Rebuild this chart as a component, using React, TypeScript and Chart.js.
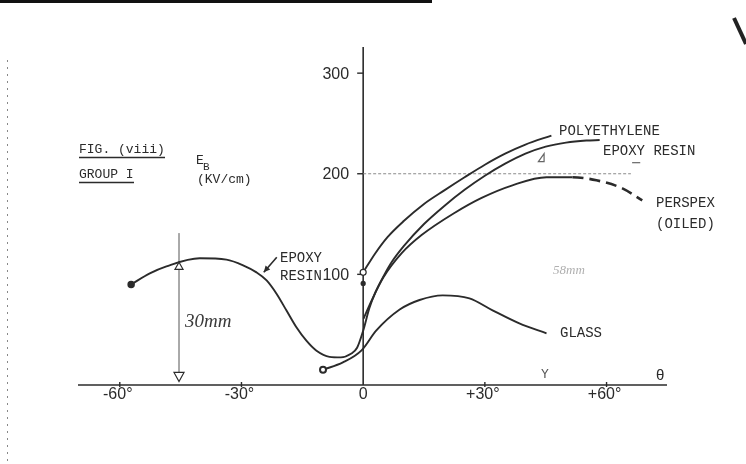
import React, { useEffect, useRef } from "react";
import { Chart, registerables } from "chart.js";

Chart.register(...registerables);

// ---- data (θ in degrees, E_B in kV/cm) ----
const epoxyDeg = [-57.2, -52.6, -48.5, -40.3, -33.7, -29.6, -26.3, -23.8, -21.4, -18.9, -16.5, -14.0, -11.5, -8.3, -5.5, -3.0, -1.5, 0, 1.5, 3, 5, 7, 10, 15, 20, 25, 30, 35, 40, 45, 50, 55, 58.3];
const epoxyKv = [90, 101, 108, 116, 114.6, 109, 102, 94, 81, 64, 47.6, 34, 24, 18, 17.5, 21, 27, 44, 66, 82, 98, 112, 128, 150, 168, 184, 198, 210, 220, 227, 231, 233, 233.5];

const polyDeg = [0, 3, 6, 10, 15, 20, 25, 30, 35, 40, 46.4];
const polyKv = [102, 121, 137, 153, 170, 183.5, 196.5, 209, 220, 229, 238];

const perspexDeg = [0.1, 2.1, 5.0, 9.5, 14.4, 22.5, 29.2, 36.8, 45.2, 51.6, 57.5, 63.9, 68.8];
const perspexKv = [56, 74, 97, 121, 139, 161, 176, 188.5, 196.5, 196.5, 193.5, 185.5, 173.5];

const glassDeg = [-9.9, -5.0, -0.4, 3.2, 9.0, 13.9, 19.6, 26.2, 31.9, 38.5, 45.2];
const glassKv = [5.2, 12.4, 24.4, 44, 65, 74.5, 79.1, 76.1, 64.2, 51.2, 41.3];

const xTickValues = [-60, -30, 0, 30, 60];
const xTickLabels = ["-60°", "-30°", "0", "+30°", "+60°"];
const yTickValues = [100, 200, 300];
const yTickLabels = ["100", "200", "300"];

const X_MIN = -70.3;
const X_MAX = 74.9;
const Y_MIN = -10;
const Y_MAX = 326;

const INK = "#2b2b2b";
const MONO = "'Liberation Mono', 'DejaVu Sans Mono', monospace";
const HAND = "'Liberation Sans', 'DejaVu Sans', sans-serif";

const toPts = (xs: number[], ys: number[]) => xs.map((x, i) => ({ x, y: ys[i] }));

const decor = {
  id: "decor",
  beforeDraw(chart: any) {
    const c = chart.ctx;
    c.save();
    c.fillStyle = "#ffffff";
    c.fillRect(0, 0, chart.width, chart.height);
    // scan artefacts
    c.fillStyle = "#111";
    c.fillRect(0, 0, 432, 3);
    c.strokeStyle = "#222";
    c.lineWidth = 4;
    c.beginPath();
    c.moveTo(734, 18);
    c.lineTo(746, 44);
    c.stroke();
    c.strokeStyle = "#888";
    c.lineWidth = 1;
    c.setLineDash([2, 5]);
    c.beginPath();
    c.moveTo(7.5, 60);
    c.lineTo(7.5, 464);
    c.stroke();
    c.restore();
  },
  beforeDatasetsDraw(chart: any) {
    const { ctx } = chart;
    const xs = chart.scales.x;
    const ys = chart.scales.y;
    const px = (v: number) => xs.getPixelForValue(v);
    const py = (v: number) => ys.getPixelForValue(v);
    ctx.save();
    ctx.strokeStyle = INK;
    ctx.lineWidth = 1.6;
    // x axis
    ctx.beginPath();
    ctx.moveTo(px(X_MIN), py(Y_MIN));
    ctx.lineTo(px(X_MAX), py(Y_MIN));
    ctx.stroke();
    // y axis
    ctx.beginPath();
    ctx.moveTo(px(0), py(Y_MAX));
    ctx.lineTo(px(0), py(Y_MIN));
    ctx.stroke();
    // y ticks
    ctx.lineWidth = 1.4;
    yTickValues.forEach((v) => {
      ctx.beginPath();
      ctx.moveTo(px(0) - 6, py(v));
      ctx.lineTo(px(0), py(v));
      ctx.stroke();
    });
    // x ticks
    xTickValues.forEach((v) => {
      if (v === 0) return;
      ctx.beginPath();
      ctx.moveTo(px(v), py(Y_MIN) - 3);
      ctx.lineTo(px(v), py(Y_MIN) + 2);
      ctx.stroke();
    });
    // dotted guide at 200
    ctx.strokeStyle = "#8a8a8a";
    ctx.lineWidth = 1;
    ctx.setLineDash([3, 2]);
    ctx.beginPath();
    ctx.moveTo(px(0), py(200));
    ctx.lineTo(px(66), py(200));
    ctx.stroke();
    ctx.setLineDash([]);
    // 30 mm dimension line
    ctx.strokeStyle = "#555";
    ctx.lineWidth = 1;
    ctx.beginPath();
    ctx.moveTo(px(-45.4), py(141));
    ctx.lineTo(px(-45.4), py(-5.5));
    ctx.stroke();
    ctx.restore();
  },
  afterDatasetsDraw(chart: any) {
    const { ctx } = chart;
    const xs = chart.scales.x;
    const ys = chart.scales.y;
    const px = (v: number) => xs.getPixelForValue(v);
    const py = (v: number) => ys.getPixelForValue(v);
    ctx.save();
    ctx.fillStyle = INK;
    ctx.strokeStyle = INK;

    // tick labels
    ctx.font = `16px ${HAND}`;
    ctx.textAlign = "right";
    ctx.textBaseline = "middle";
    yTickValues.forEach((v, i) => ctx.fillText(yTickLabels[i], px(0) - 14, py(v) + 1));
    ctx.textAlign = "center";
    ctx.textBaseline = "alphabetic";
    xTickValues.forEach((v, i) => ctx.fillText(xTickLabels[i], px(v) + (v === 0 ? 0 : -2), 399));

    // markers
    ctx.lineWidth = 1.2;
    // open triangle on epoxy curve
    const tx = px(-45.4), ty = py(108);
    ctx.beginPath();
    ctx.moveTo(tx - 4, ty + 3);
    ctx.lineTo(tx + 4, ty + 3);
    ctx.lineTo(tx, ty - 4);
    ctx.closePath();
    ctx.fillStyle = "#fff";
    ctx.fill();
    ctx.stroke();
    // downward triangle at the axis
    const dx = px(-45.4), dy = py(-2.5);
    ctx.beginPath();
    ctx.moveTo(dx - 5, dy - 5);
    ctx.lineTo(dx + 5, dy - 5);
    ctx.lineTo(dx, dy + 4);
    ctx.closePath();
    ctx.fill();
    ctx.stroke();
    // open circle at polyethylene start
    ctx.beginPath();
    ctx.arc(px(0), py(102), 3, 0, Math.PI * 2);
    ctx.fill();
    ctx.stroke();
    // filled dot on axis
    ctx.fillStyle = INK;
    ctx.beginPath();
    ctx.arc(px(0), py(91), 2.6, 0, Math.PI * 2);
    ctx.fill();
    // small marks between curves
    ctx.strokeStyle = "#666";
    ctx.beginPath();
    ctx.moveTo(px(43.2), py(212));
    ctx.lineTo(px(44.6), py(220));
    ctx.lineTo(px(44.6), py(212));
    ctx.closePath();
    ctx.stroke();
    ctx.beginPath();
    ctx.moveTo(px(66.3), py(211));
    ctx.lineTo(px(68.3), py(211));
    ctx.stroke();

    // arrow to left epoxy curve
    ctx.strokeStyle = INK;
    ctx.lineWidth = 1.6;
    const ax0 = px(-21.3), ay0 = py(117), ax1 = px(-24.5), ay1 = py(102);
    ctx.beginPath();
    ctx.moveTo(ax0, ay0);
    ctx.lineTo(ax1, ay1);
    ctx.stroke();
    const ang = Math.atan2(ay1 - ay0, ax1 - ax0);
    ctx.beginPath();
    ctx.moveTo(ax1, ay1);
    ctx.lineTo(ax1 - 7 * Math.cos(ang - 0.45), ay1 - 7 * Math.sin(ang - 0.45));
    ctx.lineTo(ax1 - 7 * Math.cos(ang + 0.45), ay1 - 7 * Math.sin(ang + 0.45));
    ctx.closePath();
    ctx.fillStyle = INK;
    ctx.fill();

    // typewritten labels
    ctx.textAlign = "left";
    ctx.textBaseline = "alphabetic";
    ctx.fillStyle = INK;
    ctx.font = `14px ${MONO}`;
    ctx.fillText("POLYETHYLENE", 559, 135);
    ctx.fillText("EPOXY RESIN", 603, 155);
    ctx.fillText("PERSPEX", 656, 207);
    ctx.fillText("(OILED)", 656, 228);
    ctx.fillText("GLASS", 560, 337);
    ctx.fillText("EPOXY", 280, 262);
    ctx.fillText("RESIN", 280, 280);

    ctx.font = `13px ${MONO}`;
    ctx.fillText("FIG. (viii)", 79, 153);
    ctx.fillText("GROUP I", 79, 178);
    ctx.fillText("(KV/cm)", 197, 183);
    ctx.fillText("E", 196, 164);
    ctx.font = `11px ${MONO}`;
    ctx.fillText("B", 203, 170);
    ctx.lineWidth = 1.3;
    ctx.beginPath();
    ctx.moveTo(79, 157.5);
    ctx.lineTo(165, 157.5);
    ctx.moveTo(79, 182.5);
    ctx.lineTo(134, 182.5);
    ctx.stroke();

    // axis letters
    ctx.font = `15px ${HAND}`;
    ctx.fillText("θ", 656, 380);
    ctx.font = `13px ${MONO}`;
    ctx.fillStyle = "#555";
    ctx.fillText("Y", 541, 378);

    // handwritten notes
    ctx.font = `italic 19px 'Liberation Serif', 'DejaVu Serif', serif`;
    ctx.fillStyle = "#3a3a3a";
    ctx.fillText("30mm", 185, 327);
    ctx.font = `italic 13px 'Liberation Serif', 'DejaVu Serif', serif`;
    ctx.fillStyle = "#b0b0b0";
    ctx.fillText("58mm", 553, 274);
    ctx.restore();
  },
};

export default function App() {
  const ref = useRef<HTMLCanvasElement | null>(null);
  useEffect(() => {
    if (!ref.current) return;
    const line = {
      borderColor: INK,
      backgroundColor: INK,
      borderWidth: 1.9,
      cubicInterpolationMode: "monotone" as const,
      fill: false,
      pointRadius: 0,
    };
    const chart = new Chart(ref.current, {
      type: "line",
      data: {
        datasets: [
          {
            ...line,
            label: "Epoxy resin",
            data: toPts(epoxyDeg, epoxyKv),
            pointRadius: (c: any) => (c.dataIndex === 0 ? 2.8 : 0),
          },
          { ...line, label: "Polyethylene", data: toPts(polyDeg, polyKv) },
          {
            ...line,
            label: "Perspex (oiled)",
            data: toPts(perspexDeg, perspexKv),
            segment: {
              borderDash: (c: any) => (c.p0.parsed.x >= 51 ? [11, 6] : undefined),
              borderWidth: (c: any) => (c.p0.parsed.x >= 51 ? 2.6 : undefined),
            },
          },
          {
            ...line,
            label: "Glass",
            data: toPts(glassDeg, glassKv),
            pointRadius: (c: any) => (c.dataIndex === 0 ? 3 : 0),
            pointBackgroundColor: "#fff",
            pointBorderWidth: 2,
          },
        ],
      },
      options: {
        responsive: false,
        animation: false,
        events: [],
        layout: { padding: { left: 78, right: 79, top: 47, bottom: 79 } },
        scales: {
          x: { type: "linear", min: X_MIN, max: X_MAX, display: false },
          y: { type: "linear", min: Y_MIN, max: Y_MAX, display: false },
        },
        plugins: { legend: { display: false }, tooltip: { enabled: false } },
      },
      plugins: [decor],
    });
    return () => chart.destroy();
  }, []);
  return (
    <canvas
      ref={ref}
      width={746}
      height={464}
      style={{ position: "absolute", left: 0, top: 0, display: "block" }}
    />
  );
}
